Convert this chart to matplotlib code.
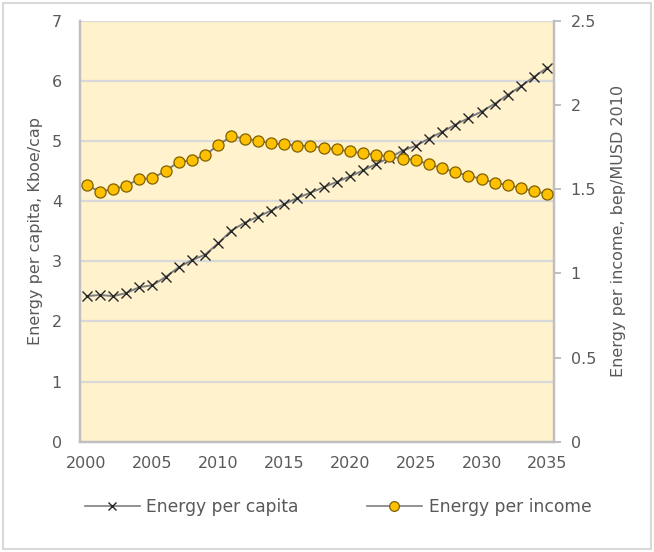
import matplotlib
matplotlib.use("Agg")
import matplotlib.pyplot as plt
from matplotlib.patches import Rectangle
from matplotlib.lines import Line2D

years = list(range(2000, 2036))

# Energy per capita, Kboe/cap (left axis)
energy_per_capita = [
    2.42, 2.44, 2.42, 2.47, 2.57, 2.60, 2.74, 2.90, 3.02, 3.11,
    3.30, 3.51, 3.64, 3.74, 3.84, 3.95, 4.05, 4.14, 4.23, 4.32,
    4.41, 4.51, 4.62, 4.72, 4.84, 4.92, 5.04, 5.15, 5.27, 5.38,
    5.49, 5.62, 5.77, 5.91, 6.07, 6.22,
]

# Energy per income, bep/MUSD 2010 (right axis)
energy_per_income = [
    1.524, 1.485, 1.499, 1.520, 1.560, 1.564, 1.609, 1.661, 1.671, 1.701,
    1.762, 1.814, 1.800, 1.787, 1.772, 1.766, 1.758, 1.756, 1.746, 1.736,
    1.724, 1.713, 1.703, 1.694, 1.681, 1.673, 1.647, 1.625, 1.600, 1.580,
    1.560, 1.538, 1.523, 1.507, 1.487, 1.471,
]

x_ticks = [2000, 2005, 2010, 2015, 2020, 2025, 2030, 2035]
left_ticks = [0, 1, 2, 3, 4, 5, 6, 7]
right_ticks = [0, 0.5, 1, 1.5, 2, 2.5]

TEXT = '#595959'
AXIS = '#BFBFBF'
GRID = '#D9D9D9'
plt.rcParams['font.family'] = ['DejaVu Sans']

fig = plt.figure(figsize=(6.54, 5.52), dpi=100)
fig.patch.set_facecolor('white')
ax1 = fig.add_axes([80 / 654, 1 - 441.7 / 552, 474 / 654, 421 / 552])
ax2 = ax1.twinx()

ax1.set_facecolor('#FFF2CC')
ax1.set_zorder(0)
ax2.set_zorder(1)
ax2.patch.set_visible(False)

# Per-capita series with x markers
ax1.plot(years, energy_per_capita, color='#7F7F7F', lw=1.4,
         marker='x', ms=7, mec='#262626', mew=1.0, zorder=3)
# Per-income series with gold circles
ax2.plot(years, energy_per_income, color='#7F7F7F', lw=1.4,
         marker='o', ms=8, mfc='#FFC000', mec='#7F6000', mew=0.9, zorder=3)

ax1.set_xlim(1999.5, 2035.5)
ax1.set_ylim(0, 7)
ax2.set_ylim(0, 2.5)
ax1.set_xticks(x_ticks)
ax1.set_yticks(left_ticks)
ax2.set_yticks(right_ticks)
ax2.set_yticklabels(['0', '0.5', '1', '1.5', '2', '2.5'])

ax1.grid(axis='y', color=GRID, lw=1.6)
ax1.set_axisbelow(True)

for ax in (ax1, ax2):
    ax.spines['top'].set_visible(False)
    for side in ('left', 'right', 'bottom'):
        ax.spines[side].set_color(AXIS)
        ax.spines[side].set_linewidth(1.6)

ax1.tick_params(axis='x', length=0, pad=10, labelsize=11.5, colors=TEXT)
ax1.tick_params(axis='y', length=0, pad=13, labelsize=11.5, colors=TEXT)
ax2.tick_params(axis='y', length=5, width=1.4, color=AXIS, pad=7,
                labelsize=11.5, labelcolor=TEXT)

ax1.set_ylabel('Energy per capita, Kboe/cap', fontsize=11.5, color=TEXT, labelpad=6)
ax2.set_ylabel('Energy per income, bep/MUSD 2010', fontsize=11.5, color=TEXT, labelpad=11)

handles = [
    Line2D([], [], color='#7F7F7F', lw=1.2, marker='x', ms=6,
           mec='#262626', mew=1.0),
    Line2D([], [], color='#7F7F7F', lw=1.2, marker='o', ms=7,
           mfc='#FFC000', mec='#7F6000', mew=0.9),
]
fig.legend(handles, ['Energy per capita', 'Energy per income'],
           loc='center', bbox_to_anchor=(338 / 654, 1 - 507 / 552),
           ncol=2, frameon=False, fontsize=12.3, labelcolor=TEXT,
           handlelength=3.2, columnspacing=4.0, handletextpad=0.4)

# Light chart border
fig.patches.append(Rectangle((0.004, 0.005), 0.991, 0.99, transform=fig.transFigure,
                             fill=False, edgecolor='#D9D9D9', lw=1.5))

fig.savefig('out.png', dpi=100, facecolor='white')
plt.close(fig)
